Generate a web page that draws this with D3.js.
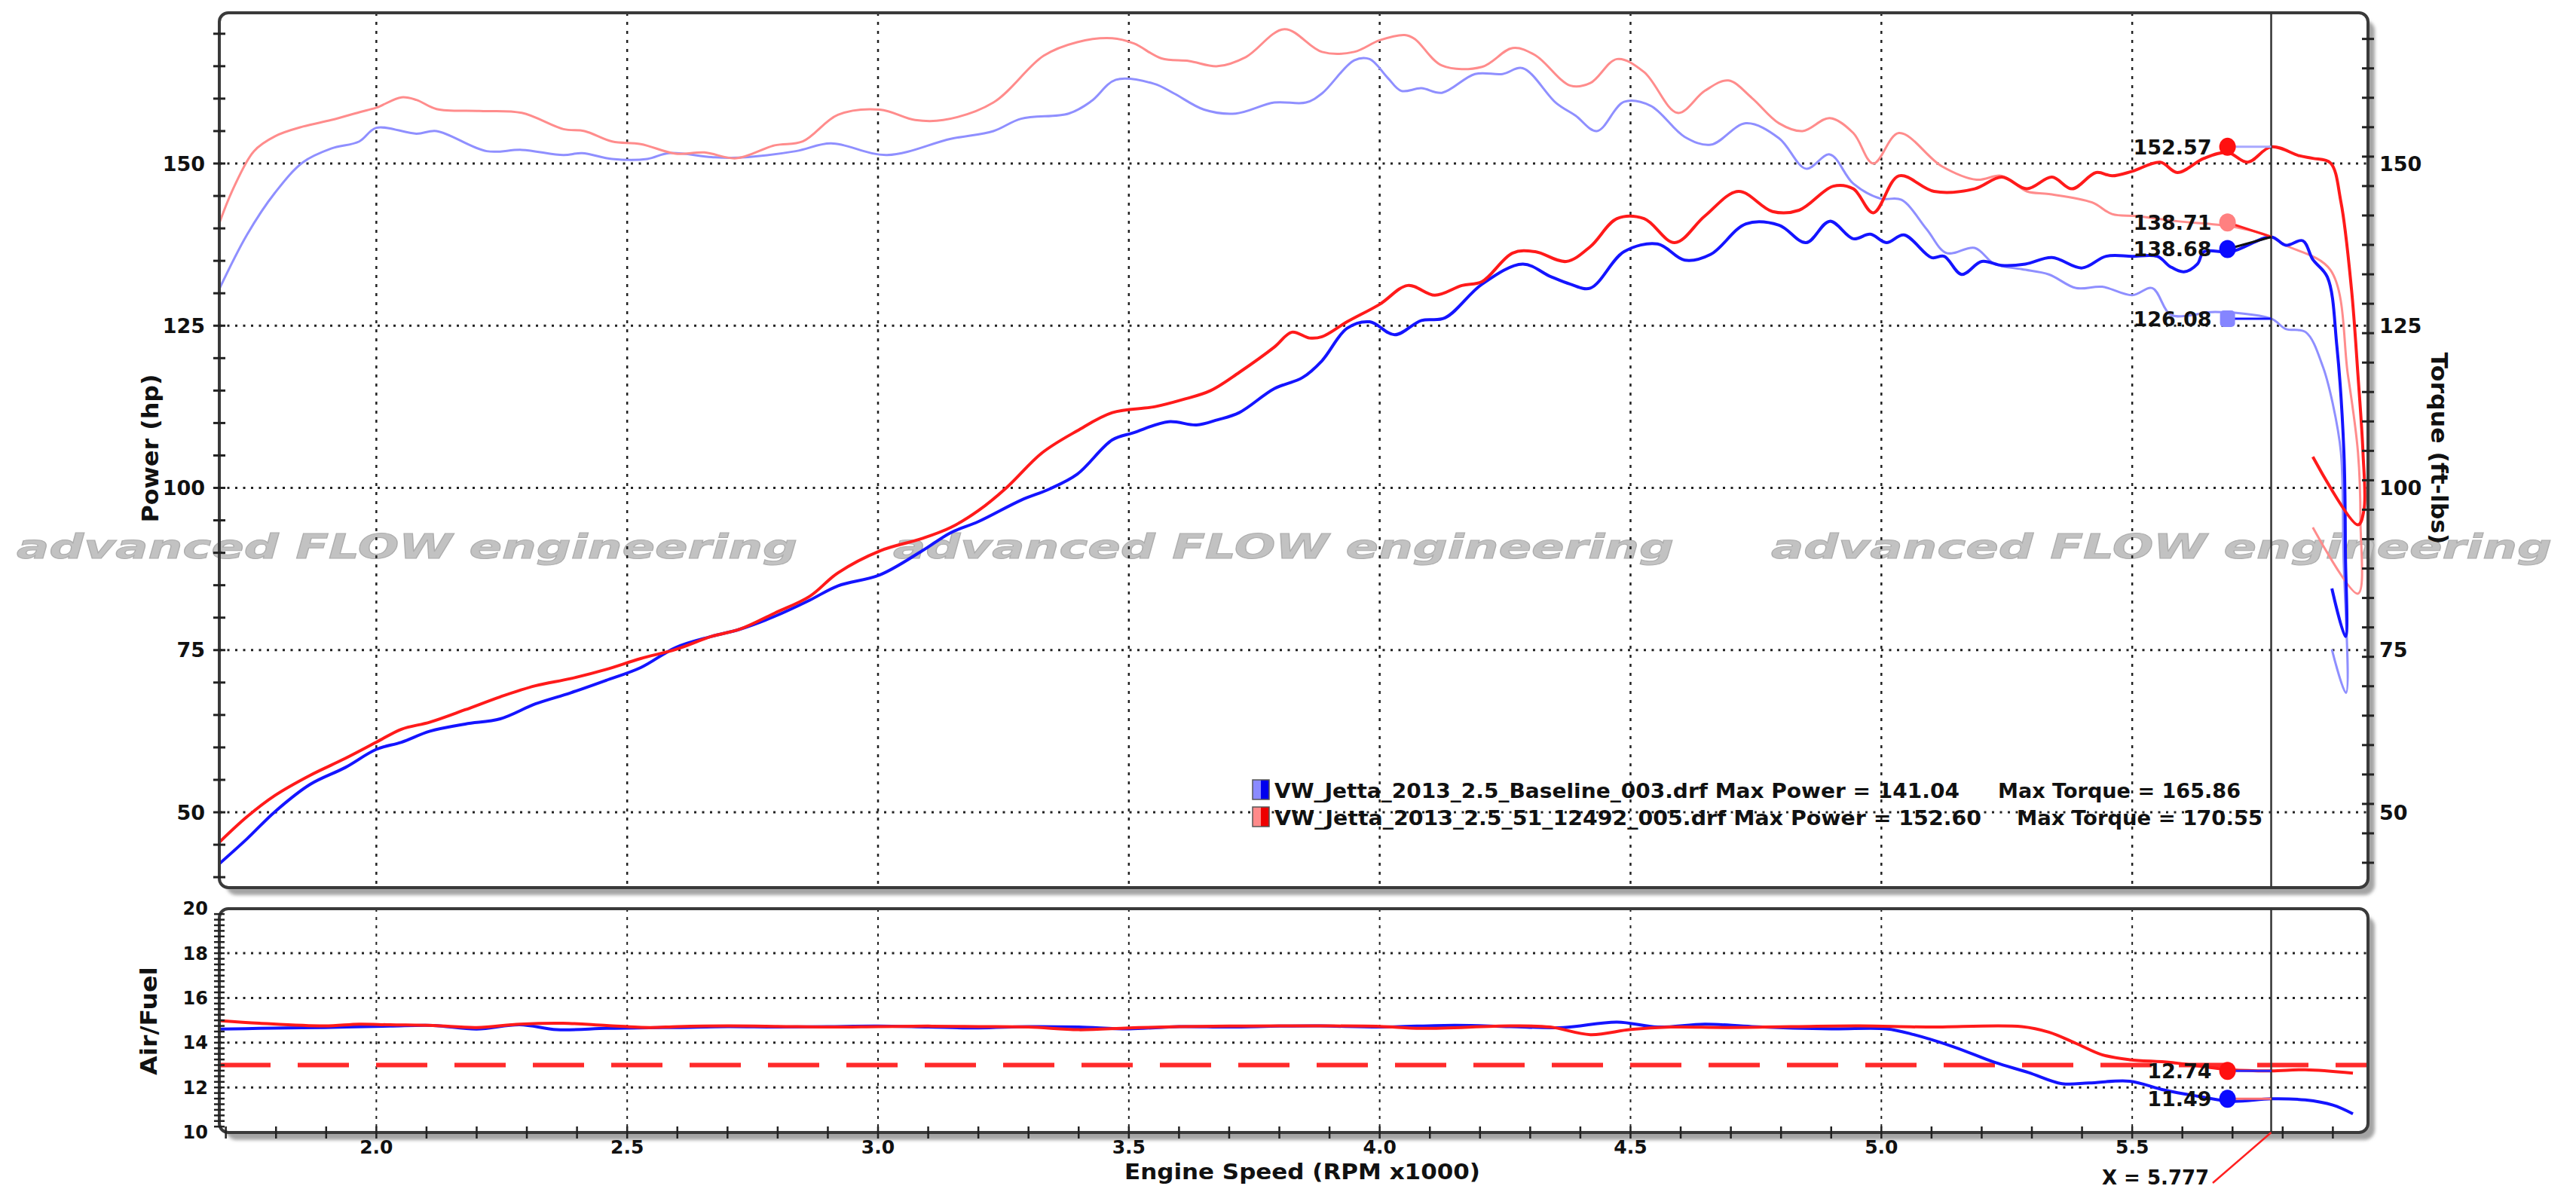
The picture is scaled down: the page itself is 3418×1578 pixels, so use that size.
<!DOCTYPE html>
<html><head><meta charset="utf-8">
<script src="https://cdn.jsdelivr.net/npm/d3@7"></script>
<style>html,body{margin:0;padding:0;background:#fff;}svg{display:block;}</style>
</head><body>
<svg id="chart" width="3418" height="1578"></svg>
<script>
// ---------------- DATA ----------------
const xDomain = [1.687, 5.97];          // Engine speed (RPM x1000)
const powerDomain = [38.39, 173.46];    // hp / ft-lbs
const afrDomain = [10, 20];
const xTickLabels = [2.0, 2.5, 3.0, 3.5, 4.0, 4.5, 5.0, 5.5];
const powerTickLabels = [50, 75, 100, 125, 150];
const torqueTickLabels = [50, 75, 100, 125, 150];
const afrTickLabels = [10, 12, 14, 16, 18, 20];
const afrGrid = [12, 14, 16, 18];
const afrTarget = 13.0;
const cursorRpm = 5.777;

// Baseline power (hp) [rpm, hp]
const basePower = [[1.686,42.0],[1.742,45.9],[1.798,50.1],[1.868,54.3],[1.938,56.9],[2.0,59.7],[2.05,60.8],[2.107,62.5],[2.177,63.6],[2.247,64.4],[2.317,66.7],[2.387,68.4],[2.457,70.3],[2.527,72.3],[2.597,75.4],[2.668,77.1],[2.724,78.2],[2.794,80.2],[2.864,82.7],[2.92,84.9],[3.004,86.6],[3.088,90.3],[3.145,93.1],[3.2,94.8],[3.285,98.1],[3.341,99.8],[3.397,102.1],[3.467,107.4],[3.509,108.5],[3.579,110.2],[3.635,109.7],[3.677,110.5],[3.72,111.6],[3.79,115.3],[3.846,117.0],[3.885,119.6],[3.935,124.6],[3.98,125.6],[4.03,123.6],[4.083,125.8],[4.13,126.2],[4.204,131.4],[4.285,134.5],[4.34,132.6],[4.38,131.4],[4.42,130.8],[4.487,136.4],[4.554,137.6],[4.608,135.1],[4.66,136.0],[4.73,140.7],[4.796,140.5],[4.85,137.8],[4.897,141.1],[4.944,138.4],[4.978,139.1],[5.01,137.8],[5.045,139.0],[5.1,135.5],[5.125,135.7],[5.16,132.9],[5.2,134.9],[5.24,134.3],[5.287,134.5],[5.34,135.5],[5.4,133.9],[5.448,135.7],[5.5,135.7],[5.55,135.7],[5.576,134.1],[5.603,133.3],[5.63,134.5],[5.643,136.4],[5.697,136.4],[5.777,138.68],[5.806,137.4],[5.84,138.1],[5.86,135.2],[5.889,132.5],[5.908,121.8],[5.922,105.5],[5.925,90.0],[5.925,77.1],[5.898,84.5]];

// Modified power (hp)
const modPower = [[1.686,45.3],[1.742,49.3],[1.798,52.6],[1.868,55.7],[1.938,58.3],[2.0,60.8],[2.05,62.8],[2.107,63.9],[2.177,65.8],[2.247,67.8],[2.317,69.5],[2.387,70.6],[2.457,72.0],[2.527,73.7],[2.597,75.1],[2.668,77.1],[2.724,78.2],[2.794,80.7],[2.864,83.3],[2.92,86.9],[3.004,90.3],[3.088,92.2],[3.145,93.9],[3.2,96.5],[3.257,100.1],[3.327,105.4],[3.397,108.8],[3.467,111.6],[3.551,112.5],[3.607,113.6],[3.663,115.0],[3.72,117.8],[3.79,121.7],[3.825,124.0],[3.86,123.1],[3.885,123.3],[3.935,125.6],[4.0,128.3],[4.056,131.2],[4.11,129.7],[4.164,131.2],[4.204,131.8],[4.265,136.2],[4.31,136.4],[4.372,134.9],[4.42,137.2],[4.473,141.5],[4.527,141.5],[4.588,137.8],[4.648,141.9],[4.715,145.7],[4.783,142.6],[4.836,142.8],[4.904,146.5],[4.944,146.1],[4.984,142.4],[5.035,148.1],[5.105,145.7],[5.186,146.1],[5.24,147.9],[5.29,146.1],[5.34,147.9],[5.38,146.1],[5.428,148.6],[5.46,148.1],[5.5,148.8],[5.556,150.2],[5.59,148.6],[5.643,150.8],[5.69,151.7],[5.73,150.2],[5.777,152.57],[5.833,151.2],[5.86,150.8],[5.895,150.1],[5.916,144.1],[5.937,130.7],[5.95,117.4],[5.96,105.5],[5.962,96.6],[5.95,94.3],[5.86,104.8]];

// Baseline torque (ft-lbs)
const baseTorque = [[1.686,130.5],[1.742,139.0],[1.798,145.5],[1.854,150.2],[1.91,152.3],[1.966,153.4],[2.0,155.5],[2.08,154.6],[2.12,155.0],[2.22,151.9],[2.29,152.1],[2.373,151.3],[2.41,151.6],[2.47,150.7],[2.54,150.7],[2.583,151.6],[2.668,151.0],[2.72,150.9],[2.836,151.9],[2.906,153.1],[3.018,151.3],[3.145,153.8],[3.23,155.0],[3.285,156.9],[3.38,157.7],[3.425,159.6],[3.474,162.9],[3.55,162.3],[3.59,160.8],[3.65,158.3],[3.713,157.7],[3.79,159.4],[3.853,159.4],[3.885,160.8],[3.949,165.9],[3.98,166.1],[4.016,163.2],[4.043,161.2],[4.083,161.6],[4.124,160.9],[4.19,163.8],[4.245,163.8],[4.285,164.7],[4.352,159.3],[4.39,157.4],[4.433,155.0],[4.487,159.5],[4.54,158.9],[4.608,154.1],[4.66,152.9],[4.73,156.2],[4.796,153.9],[4.85,149.2],[4.897,151.4],[4.944,146.9],[4.998,144.6],[5.04,144.4],[5.09,139.9],[5.13,136.2],[5.186,137.0],[5.226,134.5],[5.28,133.7],[5.334,132.9],[5.388,130.8],[5.44,131.0],[5.5,129.7],[5.54,130.8],[5.576,126.7],[5.616,126.6],[5.657,127.1],[5.777,126.08],[5.806,124.5],[5.846,124.0],[5.88,118.7],[5.9,112.9],[5.916,105.5],[5.921,90.0],[5.926,68.4],[5.898,75.1]];

// Modified torque (ft-lbs)
const modTorque = [[1.686,140.6],[1.714,146.0],[1.756,151.9],[1.798,154.2],[1.854,155.7],[1.91,156.7],[1.966,157.9],[2.0,158.6],[2.05,160.2],[2.08,159.8],[2.12,158.4],[2.205,158.1],[2.29,157.8],[2.373,155.3],[2.415,155.0],[2.47,153.4],[2.527,153.0],[2.597,151.5],[2.654,151.7],[2.717,150.8],[2.794,152.8],[2.85,153.4],[2.92,157.5],[3.004,158.3],[3.074,156.7],[3.13,156.7],[3.23,159.4],[3.33,166.6],[3.397,168.7],[3.467,169.3],[3.51,168.5],[3.565,166.2],[3.62,165.8],[3.677,165.0],[3.733,166.4],[3.81,170.7],[3.885,167.2],[3.949,167.2],[4.0,169.0],[4.05,169.8],[4.07,169.2],[4.124,165.1],[4.204,164.9],[4.265,167.8],[4.31,166.7],[4.38,162.0],[4.42,162.4],[4.473,166.1],[4.527,164.1],[4.594,157.8],[4.648,161.2],[4.695,162.8],[4.742,160.1],[4.796,156.2],[4.843,155.0],[4.897,157.0],[4.944,154.7],[4.984,150.0],[5.035,154.7],[5.12,149.6],[5.19,147.5],[5.24,148.1],[5.29,145.7],[5.334,145.3],[5.42,144.0],[5.46,142.2],[5.509,141.9],[5.59,141.1],[5.697,140.3],[5.777,138.71],[5.806,137.4],[5.895,133.6],[5.93,117.4],[5.95,105.5],[5.955,95.0],[5.95,83.7],[5.86,93.9]];

// Air/Fuel ratio
const baseAfr = [[1.69,14.61],[1.767,14.64],[1.897,14.68],[2.027,14.74],[2.113,14.77],[2.2,14.61],[2.286,14.80],[2.36,14.58],[2.459,14.64],[2.545,14.67],[2.6,14.68],[2.7,14.72],[2.8,14.70],[2.9,14.72],[3.0,14.74],[3.1,14.70],[3.2,14.66],[3.3,14.72],[3.4,14.70],[3.5,14.62],[3.6,14.72],[3.7,14.70],[3.8,14.74],[3.882,14.75],[4.0,14.70],[4.15,14.78],[4.26,14.72],[4.366,14.68],[4.473,14.92],[4.554,14.70],[4.648,14.83],[4.742,14.72],[4.9,14.62],[5.01,14.62],[5.065,14.36],[5.146,13.80],[5.226,13.12],[5.293,12.67],[5.36,12.17],[5.414,12.20],[5.495,12.28],[5.563,11.89],[5.63,11.61],[5.697,11.38],[5.777,11.49],[5.845,11.44],[5.9,11.21],[5.94,10.82]];
const modAfr = [[1.69,14.98],[1.767,14.87],[1.897,14.75],[1.966,14.83],[2.027,14.80],[2.113,14.77],[2.2,14.68],[2.286,14.83],[2.372,14.87],[2.459,14.77],[2.545,14.68],[2.6,14.72],[2.7,14.75],[2.8,14.73],[2.9,14.70],[3.0,14.72],[3.1,14.74],[3.2,14.72],[3.3,14.70],[3.4,14.58],[3.5,14.66],[3.6,14.72],[3.7,14.74],[3.8,14.75],[3.882,14.75],[4.0,14.73],[4.083,14.64],[4.26,14.75],[4.34,14.70],[4.42,14.36],[4.5,14.59],[4.58,14.70],[4.69,14.68],[4.82,14.72],[4.957,14.75],[5.09,14.70],[5.28,14.72],[5.334,14.47],[5.388,13.97],[5.44,13.46],[5.495,13.24],[5.576,13.12],[5.697,12.79],[5.777,12.74],[5.845,12.79],[5.94,12.64]];

const legendNames = ["VW_Jetta_2013_2.5_Baseline_003.drf", "VW_Jetta_2013_2.5_51_12492_005.drf"];
const legendMaxPower = ["141.04", "152.60"];
const legendMaxTorque = ["165.86", "170.55"];
const cursorValues = [152.57, 138.71, 138.68, 126.08];
const cursorAfrValues = [12.74, 11.49];

// ---------------- LAYOUT ----------------
const FONT = "'DejaVu Sans', Verdana, sans-serif";
const P1 = {x0: 291, x1: 3142, y0: 17, y1: 1178};
const P2 = {x0: 291, x1: 3142, y0: 1206, y1: 1503};
const svg = d3.select('#chart');
const x = d3.scaleLinear().domain(xDomain).range([P1.x0, P1.x1]);
const yP = d3.scaleLinear().domain(powerDomain).range([1178, 15]);
const yA = d3.scaleLinear().domain(afrDomain).range([1502.6, 1205.7]);

const defs = svg.append('defs');
defs.append('filter').attr('id','blur').append('feGaussianBlur').attr('stdDeviation',2);
defs.append('clipPath').attr('id','clip1').append('rect')
  .attr('x',P1.x0).attr('y',P1.y0).attr('width',P1.x1-P1.x0).attr('height',P1.y1-P1.y0);
defs.append('clipPath').attr('id','clip2').append('rect')
  .attr('x',P2.x0).attr('y',P2.y0).attr('width',P2.x1-P2.x0).attr('height',P2.y1-P2.y0);

// panel shadows and frames
[P1,P2].forEach(p=>{
  svg.append('rect').attr('x',p.x0+9).attr('y',p.y0+10).attr('width',p.x1-p.x0).attr('height',p.y1-p.y0)
    .attr('rx',14).attr('fill','#a4a4a4').attr('filter','url(#blur)');
  svg.append('rect').attr('x',p.x0).attr('y',p.y0).attr('width',p.x1-p.x0).attr('height',p.y1-p.y0)
    .attr('rx',12).attr('fill','#fff');
});

// watermark
const wm = svg.append('g');
[22, 1185, 2350].forEach(wx=>{
  wm.append('text').attr('x',wx).attr('y',741).text('advanced FLOW engineering')
    .attr('font-family',FONT).attr('font-weight','bold').attr('font-style','italic')
    .attr('font-size',44).attr('textLength',1036).attr('lengthAdjust','spacingAndGlyphs')
    .attr('fill','#c2c2c2').attr('stroke','#adadad').attr('stroke-width',1);
});

// grids
const g1 = svg.append('g').attr('clip-path','url(#clip1)');
const g2 = svg.append('g').attr('clip-path','url(#clip2)');
powerTickLabels.forEach(v=>{
  g1.append('line').attr('x1',P1.x0).attr('x2',P1.x1).attr('y1',yP(v)).attr('y2',yP(v))
    .attr('stroke','#222').attr('stroke-width',3).attr('stroke-dasharray','3,7.5');
});
xTickLabels.forEach(v=>{
  g1.append('line').attr('x1',x(v)).attr('x2',x(v)).attr('y1',P1.y0).attr('y2',P1.y1)
    .attr('stroke','#222').attr('stroke-width',2.5).attr('stroke-dasharray','4,8');
  g2.append('line').attr('x1',x(v)).attr('x2',x(v)).attr('y1',P2.y0).attr('y2',P2.y1)
    .attr('stroke','#222').attr('stroke-width',2).attr('stroke-dasharray','4,7');
});
afrGrid.forEach(v=>{
  g2.append('line').attr('x1',P2.x0).attr('x2',P2.x1).attr('y1',yA(v)).attr('y2',yA(v))
    .attr('stroke','#222').attr('stroke-width',3).attr('stroke-dasharray','3,7.5');
});

// target AFR dashed line
g2.append('line').attr('x1',P2.x0).attr('x2',P2.x1).attr('y1',yA(afrTarget)).attr('y2',yA(afrTarget))
  .attr('stroke','#ff2a2a').attr('stroke-width',6).attr('stroke-dasharray','68,36');

// curves
const lineP = d3.line().x(d=>x(d[0])).y(d=>yP(d[1])).curve(d3.curveCatmullRom.alpha(0.5));
const lineA = d3.line().x(d=>x(d[0])).y(d=>yA(d[1])).curve(d3.curveCatmullRom.alpha(0.5));
g1.append('path').attr('d',lineP(baseTorque)).attr('fill','none').attr('stroke','#8f8fff').attr('stroke-width',3);
g1.append('path').attr('d',lineP(modTorque)).attr('fill','none').attr('stroke','#ff8c8c').attr('stroke-width',3);
g1.append('path').attr('d',lineP(basePower)).attr('fill','none').attr('stroke','#1414ff').attr('stroke-width',4);
g1.append('path').attr('d',lineP(modPower)).attr('fill','none').attr('stroke','#ff1a1a').attr('stroke-width',4);
g2.append('path').attr('d',lineA(baseAfr)).attr('fill','none').attr('stroke','#1414ff').attr('stroke-width',4);
g2.append('path').attr('d',lineA(modAfr)).attr('fill','none').attr('stroke','#ff1a1a').attr('stroke-width',4);

// frame strokes
[P1,P2].forEach(p=>{
  svg.append('rect').attr('x',p.x0).attr('y',p.y0).attr('width',p.x1-p.x0).attr('height',p.y1-p.y0)
    .attr('rx',12).attr('fill','none').attr('stroke','#3a3a3a').attr('stroke-width',4);
});

// axis ticks
const ticks = svg.append('g').attr('stroke','#222').attr('stroke-width',3);
d3.range(40, 172, 5).forEach(v=>{
  ticks.append('line').attr('x1',P1.x0-8).attr('x2',P1.x0+8).attr('y1',yP(v)).attr('y2',yP(v));
});
d3.range(169.2, 39, -4.535).forEach(v=>{
  ticks.append('line').attr('x1',P1.x1-8).attr('x2',P1.x1+8).attr('y1',yP(v)).attr('y2',yP(v));
});
d3.range(10.25, 20, 0.25).forEach(v=>{
  ticks.append('line').attr('x1',P2.x0-7).attr('x2',P2.x0+7).attr('y1',yA(v)).attr('y2',yA(v)).attr('stroke-width',2.5);
});
d3.range(1.7, 5.96, 0.1).forEach(v=>{
  ticks.append('line').attr('x1',x(v)).attr('x2',x(v)).attr('y1',P2.y1-8).attr('y2',P2.y1+8).attr('stroke-width',2.5);
});

// cursor
const cx = x(cursorRpm);
[[P1.y0,P1.y1],[P2.y0,P2.y1]].forEach(([a,b])=>{
  svg.append('line').attr('x1',cx).attr('x2',cx).attr('y1',a).attr('y2',b).attr('stroke','#333').attr('stroke-width',2.5);
});

// cursor value markers
const dotX = x(5.69);
const markers = [
  {v: cursorValues[0], dy: 0,   dot:'#ff1010', lead:'#a8a8ff', shape:'c'},
  {v: cursorValues[1], dy: -19, dot:'#ff8080', lead:'#ff2020', shape:'c'},
  {v: cursorValues[2], dy: 16,  dot:'#0a0aff', lead:'#111',    shape:'c'},
  {v: cursorValues[3], dy: 0,   dot:'#8585ff', lead:'#1414ff', shape:'s'}
];
function marker(m, yScale){
  const yv = yScale(m.v), yd = yv + m.dy;
  svg.append('line').attr('x1',dotX).attr('y1',yd).attr('x2',cx).attr('y2',yv)
    .attr('stroke',m.lead).attr('stroke-width',3);
  if(m.shape==='s'){
    svg.append('rect').attr('x',dotX-10).attr('y',yd-11).attr('width',20).attr('height',22).attr('rx',5).attr('fill',m.dot);
  } else {
    svg.append('ellipse').attr('cx',dotX).attr('cy',yd).attr('rx',11).attr('ry',12).attr('fill',m.dot);
  }
  svg.append('text').attr('x',dotX-21).attr('y',yd).attr('dy','0.36em').attr('text-anchor','end')
    .attr('font-family',FONT).attr('font-weight','bold').attr('font-size',27).attr('fill','#111')
    .text(m.v.toFixed(2));
}
markers.forEach(m=>marker(m, yP));
[{v: cursorAfrValues[0], dy:0, dot:'#ff1010', lead:'#2a2aff', shape:'c'},
 {v: cursorAfrValues[1], dy:0, dot:'#0a0aff', lead:'#ff7070', shape:'c'}].forEach(m=>marker(m, yA));

// legend
const legY = [1059, 1095];
const legCol = [['#8a8aff','#0000ee'],['#ff8a8a','#ee0000']];
const part1Len = [909, 938], torqueX = [2651, 2676], torqueLen = [322, 326];
legendNames.forEach((n,i)=>{
  const sy = legY[i]-24;
  svg.append('rect').attr('x',1662).attr('y',sy).attr('width',11).attr('height',26).attr('fill',legCol[i][0]);
  svg.append('rect').attr('x',1673).attr('y',sy).attr('width',11).attr('height',26).attr('fill',legCol[i][1]);
  svg.append('rect').attr('x',1662).attr('y',sy).attr('width',22).attr('height',26).attr('fill','none').attr('stroke','#555').attr('stroke-width',1.5);
  svg.append('text').attr('x',1691).attr('y',legY[i]).attr('font-family',FONT).attr('font-weight','bold')
    .attr('font-size',26).attr('fill','#111').attr('textLength',part1Len[i]).attr('lengthAdjust','spacingAndGlyphs')
    .text(`${n} Max Power = ${legendMaxPower[i]}`);
  svg.append('text').attr('x',torqueX[i]).attr('y',legY[i]).attr('font-family',FONT).attr('font-weight','bold')
    .attr('font-size',26).attr('fill','#111').attr('textLength',torqueLen[i]).attr('lengthAdjust','spacingAndGlyphs')
    .text(`Max Torque = ${legendMaxTorque[i]}`);
});

// tick labels
const lab = svg.append('g').attr('font-family',FONT).attr('font-weight','bold').attr('fill','#111');
powerTickLabels.forEach(v=>{
  lab.append('text').attr('x',272).attr('y',yP(v)).attr('dy','0.36em').attr('text-anchor','end').attr('font-size',27).text(v);
});
torqueTickLabels.forEach(v=>{
  lab.append('text').attr('x',3157).attr('y',yP(v)).attr('dy','0.36em').attr('text-anchor','start').attr('font-size',27).text(v);
});
afrTickLabels.forEach(v=>{
  lab.append('text').attr('x',276).attr('y',yA(v)).attr('dy','0.36em').attr('text-anchor','end').attr('font-size',24).text(v);
});
xTickLabels.forEach(v=>{
  lab.append('text').attr('x',x(v)).attr('y',1531).attr('text-anchor','middle').attr('font-size',25).text(v.toFixed(1));
});

// axis titles
lab.append('text').attr('transform','translate(210,595) rotate(-90)').attr('text-anchor','middle')
  .attr('font-size',30).attr('textLength',197).attr('lengthAdjust','spacingAndGlyphs').text('Power (hp)');
lab.append('text').attr('transform','translate(3226,595) rotate(90)').attr('text-anchor','middle')
  .attr('font-size',30).attr('textLength',255).attr('lengthAdjust','spacingAndGlyphs').text('Torque (ft-lbs)');
lab.append('text').attr('transform','translate(208,1355) rotate(-90)').attr('text-anchor','middle')
  .attr('font-size',30).attr('textLength',144).attr('lengthAdjust','spacingAndGlyphs').text('Air/Fuel');
lab.append('text').attr('x',1728).attr('y',1565).attr('text-anchor','middle')
  .attr('font-size',29).attr('textLength',472).attr('lengthAdjust','spacingAndGlyphs').text('Engine Speed (RPM x1000)');

// cursor readout
svg.append('line').attr('x1',cx).attr('y1',P2.y1).attr('x2',2936).attr('y2',1570).attr('stroke','#ff2020').attr('stroke-width',2.5);
lab.append('text').attr('x',2789).attr('y',1572).attr('font-size',26).text('X = ' + cursorRpm.toFixed(3));
</script>
</body></html>
